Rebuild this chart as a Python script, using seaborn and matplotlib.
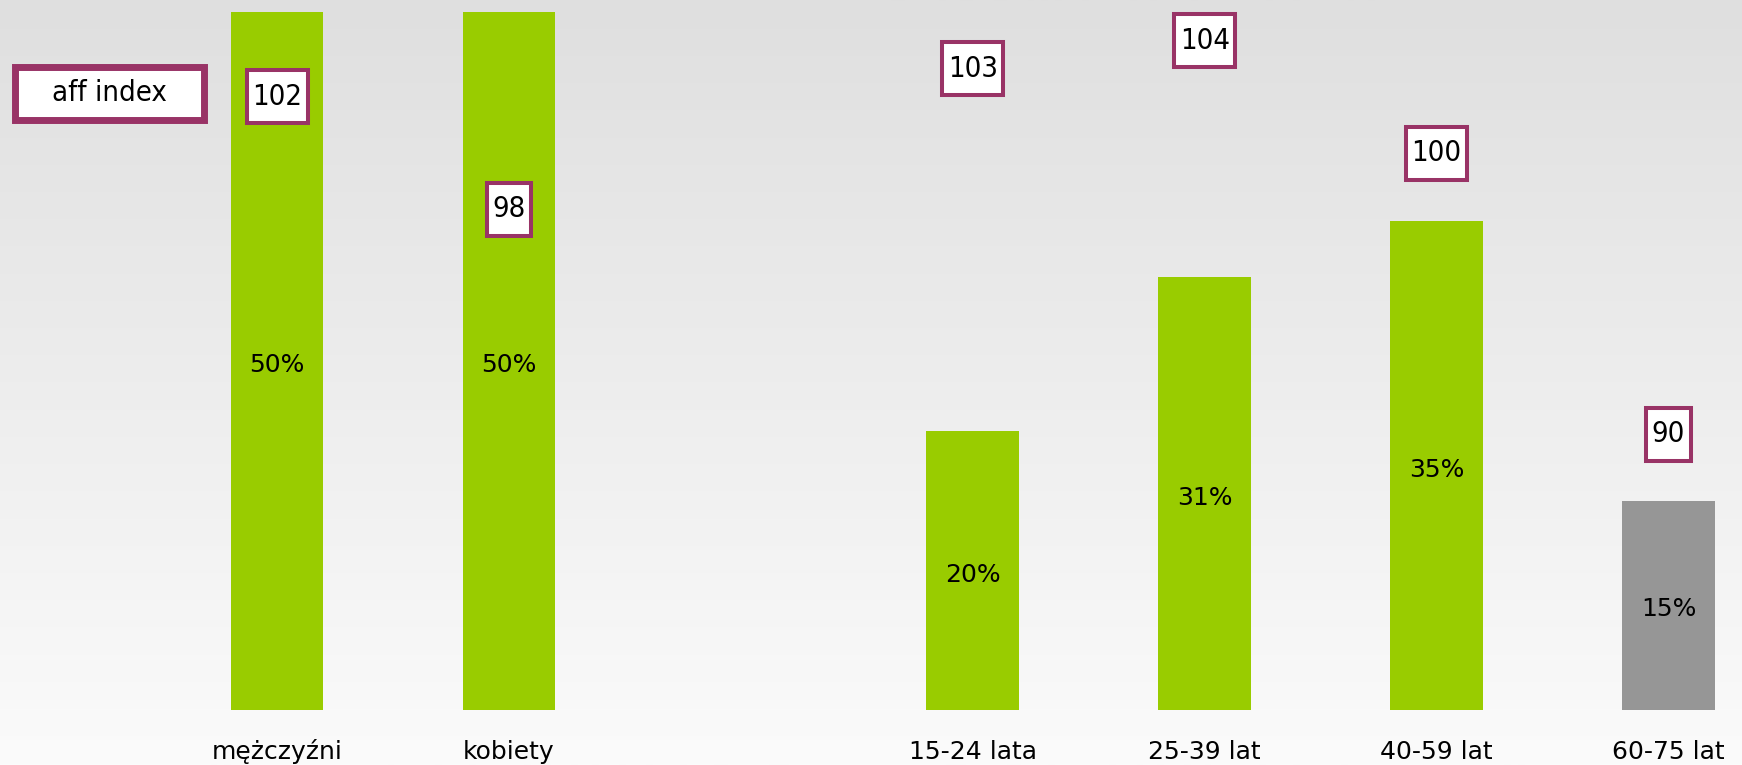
import numpy as np
import pandas as pd
import matplotlib
matplotlib.use("Agg")
import matplotlib.pyplot as plt
from matplotlib.colors import LinearSegmentedColormap
from matplotlib.path import Path
import seaborn as sns

# Audience structure: share of users (%) and affinity index per group
categories = ["mężczyźni", "kobiety", "15-24 lata", "25-39 lat", "40-59 lat", "60-75 lat"]
shares = [50, 50, 20, 31, 35, 15]
aff_index = [102, 98, 103, 104, 100, 90]
# an empty slot separates the gender bars from the age bars
slot_order = ["mężczyźni", "kobiety", "", "15-24 lata", "25-39 lat", "40-59 lat", "60-75 lat"]

GREEN = "#99CC00"
GREY = "#969696"
PLUM = "#993366"
bar_colors = {c: GREEN for c in categories}
bar_colors["60-75 lat"] = GREY

sns.set_theme(style="white")
plt.rcParams["font.family"] = ["DejaVu Sans"]

DPI = 100
fig = plt.figure(figsize=(17.42, 7.65), dpi=DPI)
ax = fig.add_axes([0, 0, 1, 1])

df = pd.DataFrame({"grupa": categories, "udzial": shares})
sns.barplot(data=df, x="grupa", y="udzial", hue="grupa", order=slot_order,
            hue_order=categories, palette=bar_colors, width=0.4, saturation=1,
            errorbar=None, legend=False, ax=ax, zorder=2, linewidth=0,
            edgecolor="none")

XLIM = (-1.195, 6.317)
YLIM = (-3.94, 50.86)
ax.set_xlim(*XLIM)
ax.set_ylim(*YLIM)
ax.set_axis_off()

# soft vertical gradient behind the bars
bg = LinearSegmentedColormap.from_list("bg", ["#DFDFDF", "#FBFBFB"])
ax.imshow(np.linspace(0, 1, 256).reshape(-1, 1), cmap=bg, aspect="auto",
          extent=[XLIM[0], XLIM[1], YLIM[0], YLIM[1]], origin="upper", zorder=0)

# share labels in the middle of each bar
for cont in ax.containers:
    ax.bar_label(cont, labels=[f"{v:.0f}%" for v in cont.datavalues],
                 label_type="center", fontsize=18, color="black", zorder=3,
                 padding=-3)

# category names below the bars
for i, name in enumerate(slot_order):
    if name:
        ax.text(i, -3.0, name, ha="center", va="center", fontsize=18, color="black")


def frame(padx, half_h):
    """Rectangular box with separate horizontal padding and fixed height (pixels)."""
    def style(x0, y0, width, height, mutation_size):
        cy = y0 + height / 2
        xa, xb = x0 - padx, x0 + width + padx
        ya, yb = cy - half_h, cy + half_h
        return Path([(xa, ya), (xb, ya), (xb, yb), (xa, yb), (xa, ya)], closed=True)
    return style


# affinity index boxes on their own scale
ax2 = ax.twinx()
ax2.set_ylim(78.23, 105.45)
ax2.set_axis_off()
for name, idx in zip(categories, aff_index):
    ax2.text(slot_order.index(name), idx, str(idx), ha="center", va="center",
             fontsize=21, fontstretch="condensed", color="black", zorder=5,
             bbox=dict(boxstyle=frame(5.5, 26.5), facecolor="white",
                       edgecolor=PLUM, linewidth=2.9))

ax.text(0.0629, 0.878, "aff index", transform=ax.transAxes, ha="center", va="center",
        fontsize=21, fontstretch="condensed", color="black", zorder=5,
        bbox=dict(boxstyle=frame(37, 26.5), facecolor="white",
                  edgecolor=PLUM, linewidth=5))

fig.savefig("out.png", dpi=DPI)
